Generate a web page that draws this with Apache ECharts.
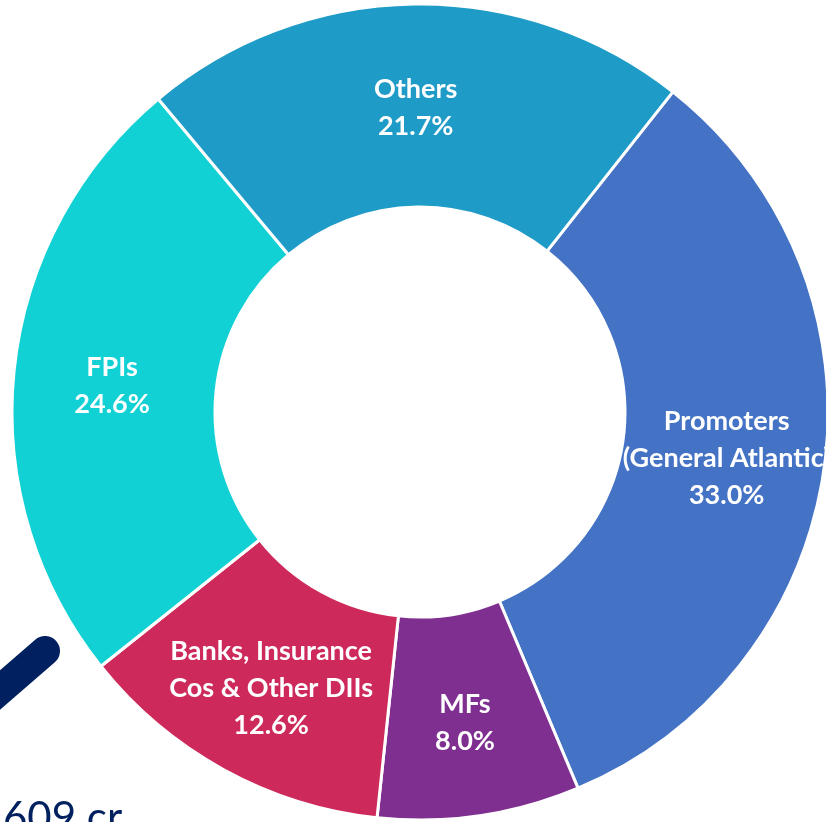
<!DOCTYPE html>
<html>
<head>
<meta charset="utf-8">
<script src="https://cdn.jsdelivr.net/npm/echarts@6/dist/echarts.min.js"></script>
<style>
  html, body { margin: 0; padding: 0; background: #fff; }
  #chart { width: 826px; height: 822px; }
</style>
</head>
<body>
<div id="chart"></div>
<script>
// shareholding pattern
var names = ['Promoters\n(General Atlantic)', 'MFs', 'Banks, Insurance\nCos & Other DIIs', 'FPIs', 'Others'];
var shares = [33.0, 8.0, 12.6, 24.6, 21.7];
var colors = ['#4472C4', '#7F2F8F', '#CD2A5B', '#12D1D4', '#1F9BC7'];

var chart = echarts.init(document.getElementById('chart'), null, { renderer: 'canvas' });

var option = {
  animation: false,
  color: colors,
  series: [
    {
      type: 'pie',
      center: [420, 412],
      radius: [205, 408],
      startAngle: 51.7,
      clockwise: true,
      avoidLabelOverlap: false,
      itemStyle: {
        borderColor: '#fff',
        borderWidth: 3
      },
      label: {
        show: true,
        position: 'inside',
        color: '#fff',
        fontFamily: 'Lato',
        fontWeight: 'bold',
        fontSize: 27,
        lineHeight: 37,
        formatter: function (p) {
          return p.name + '\n' + p.value.toFixed(1) + '%';
        }
      },
      labelLayout: { dy: 5 },
      labelLine: { show: false },
      data: names.map(function (n, i) {
        return { name: n, value: shares[i] };
      })
    }
  ],
  graphic: [
    {
      type: 'line',
      shape: { x1: -15, y1: 703, x2: 45, y2: 651 },
      style: { stroke: '#00205F', lineWidth: 30, lineCap: 'round' }
    },
    {
      type: 'text',
      x: 3,
      y: 797,
      style: {
        text: '609 cr',
        fill: '#00205F',
        font: '42px Lato'
      }
    }
  ]
};

chart.setOption(option);
</script>
</body>
</html>
